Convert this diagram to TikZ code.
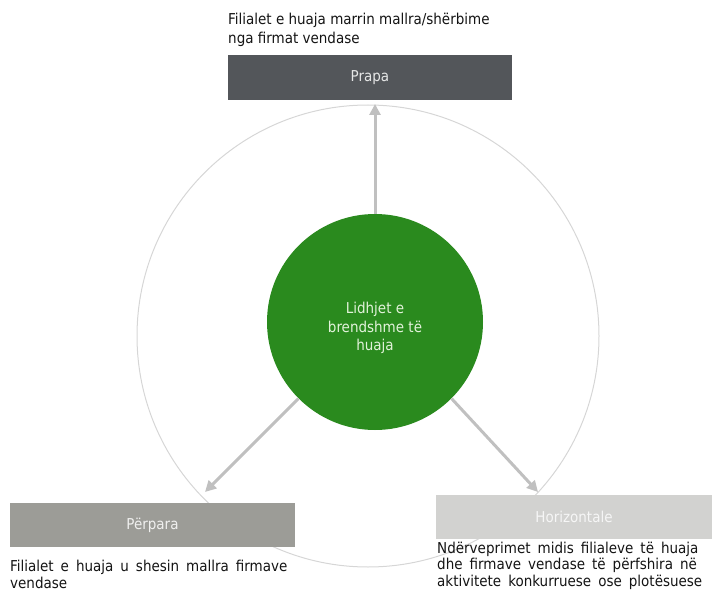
\documentclass[tikz,border=0pt]{standalone}
\usepackage{fontspec}
\setmainfont{DejaVu Sans Condensed}
\usetikzlibrary{arrows.meta}
\definecolor{ringc}{RGB}{214,214,214}
\definecolor{arrc}{RGB}{192,192,192}
\definecolor{greenc}{RGB}{42,138,30}
\definecolor{greent}{RGB}{226,242,218}
\definecolor{prapac}{RGB}{83,86,90}
\definecolor{perparac}{RGB}{156,156,151}
\definecolor{horizc}{RGB}{210,210,208}
\definecolor{labelc}{RGB}{20,20,20}
\newcommand{\myWideSpace}{\spaceskip=7pt plus 1pt\relax}
\tikzset{
  txt/.style={font=\fontsize{15}{19}\selectfont},
  boxnode/.style={rectangle, inner sep=0pt, txt},
  label text/.style={txt, text=labelc, align=left, inner sep=0pt, anchor=north west},
  arr/.style={draw=arrc, line width=3pt, -{Triangle[length=11pt,width=11pt]}},
}
\begin{document}
\begin{tikzpicture}[x=1pt,y=-1pt]
\useasboundingbox (0,0) rectangle (712,591);
\node[circle, draw=ringc, line width=1pt, minimum size=462pt, inner sep=0pt] (ring) at (368,336) {};
\node[boxnode, fill=prapac, text=white!85!prapac, minimum width=284pt, minimum height=45pt] (prapa) at (370,77.5) {\raisebox{-2pt}{Prapa}};
\node[boxnode, fill=perparac, text=white!85!perparac, minimum width=285pt, minimum height=44pt] (perpara) at (152.5,525) {\raisebox{-3pt}{Përpara}};
\node[boxnode, fill=horizc, text=white!80!horizc, minimum width=276pt, minimum height=44pt] (horiz) at (574,517) {Horizontale};
\node[circle, fill=greenc, text=greent, minimum size=216pt, inner sep=0pt, font=\fontsize{15}{18.5}\selectfont] (core) at (375,322) {\raisebox{-10pt}[0pt][0pt]{\begin{tabular}{@{}c@{}}Lidhjet e\\brendshme të\\huaja\end{tabular}}};
\coordinate (t1) at (375,104);
\coordinate (t2) at (205,492);
\coordinate (t3) at (538,492);
\draw[arr] (core.north) -- (t1);
\draw[arr] (core.225) -- (t2);
\draw[arr] (core.-45) -- (t3);
\node[label text] (l1) at (228,12.5) {Filialet e huaja marrin mallra/shërbime\\nga firmat vendase};
\node[label text, font=\fontsize{15}{17}\selectfont\myWideSpace] (l2) at (10,560) {Filialet e huaja u shesin mallra firmave\\vendase};
\node[label text, font=\fontsize{15}{16.8}\selectfont\myWideSpace] (l3) at (437,541.5) {Ndërveprimet midis filialeve të huaja\\dhe firmave vendase të përfshira në\\aktivitete konkurruese ose plotësuese};
\end{tikzpicture}
\end{document}
